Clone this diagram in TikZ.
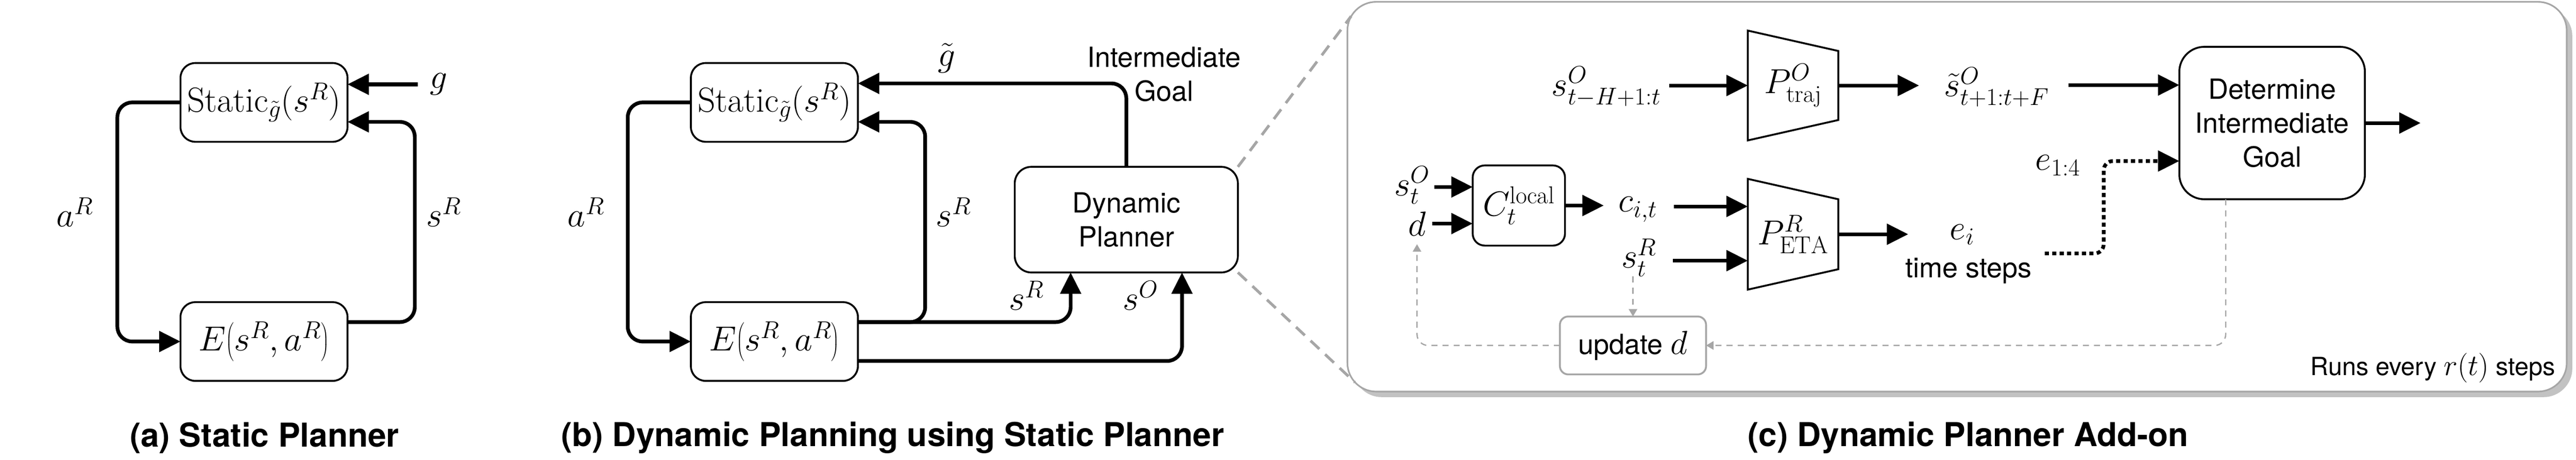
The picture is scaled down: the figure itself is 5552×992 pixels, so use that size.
\RequirePackage{fix-cm}
\documentclass[tikz,border=0pt]{standalone}
\usepackage{fontspec}
\newfontfamily\hv{TeX Gyre Heros}
\usetikzlibrary{arrows.meta,calc,shadows}
\definecolor{lgray}{HTML}{A6A6A6}
\definecolor{sgray}{HTML}{C2C2C2}
\tikzset{
  conn/.style={line width=4pt,-{Triangle[length=23pt,width=22pt]},rounded corners=16pt},
  box/.style={draw,line width=2pt,fill=white,inner sep=0pt,outer sep=0pt,align=center},
  mfont/.style={font=\fontsize{37.5pt}{45pt}\selectfont},
  mlab/.style={inner sep=0pt,outer sep=0pt,mfont},
  stxt/.style={inner sep=0pt,align=center,font=\hv\fontsize{30pt}{36.5pt}\selectfont},
  capt/.style={inner sep=0pt,font=\hv\bfseries\fontsize{35.5pt}{42pt}\selectfont},
  gdash/.style={draw=lgray,line width=1.4pt,dash pattern=on 6.5pt off 5.5pt,-{Triangle[length=8pt,width=9pt]},rounded corners=12pt},
  zdash/.style={draw=lgray,line width=3pt,dash pattern=on 13pt off 8.5pt},
  dotconn/.style={line width=4pt,dash pattern=on 4.5pt off 3.5pt,-{Triangle[length=23pt,width=22pt]},rounded corners=10pt},
  trap/.style={line width=2pt,line join=miter},
}
\begin{document}
\begin{tikzpicture}[x=0.5pt,y=-0.5pt]
\useasboundingbox (0,0) rectangle (5552,992);

% ---------------- panel (a)
\node[box,rounded corners=16pt,minimum width=180pt,minimum height=85pt,mfont] (sa) at (569,221) {$\mathrm{Static}_{\tilde{g}}(s^{R})$};
\node[box,rounded corners=16pt,minimum width=180pt,minimum height=85pt,mfont] (ea) at (569,737) {$E\mathopen{}\left(s^{R},a^{R}\right)$};
\node[mlab] (g) at (945,182) {$g$};
\draw[conn] ([xshift=-13pt]g.west) -- (g.west -| sa.east);
\draw[conn] (sa.west) -- ++(-136,0) |- (ea.west);
\draw[conn] ([yshift=21pt]ea.east) -- ++(145,0) |- ([yshift=-21pt]sa.east);
\node[mlab] (aRa) at (161,458) {$a^{R}$};
\node[mlab] (sRa) at (956,458) {$s^{R}$};
\node[capt] (capa) at (570,945) {(a) Static Planner};

% ---------------- panel (b)
\node[box,rounded corners=16pt,minimum width=180pt,minimum height=85pt,mfont] (sb) at (1669,221) {$\mathrm{Static}_{\tilde{g}}(s^{R})$};
\node[box,rounded corners=16pt,minimum width=180pt,minimum height=85pt,mfont] (eb) at (1669,737) {$E\mathopen{}\left(s^{R},a^{R}\right)$};
\node[box,rounded corners=18pt,minimum width=240.5pt,minimum height=114pt,stxt] (dyn) at (2427.5,474) {Dynamic\\Planner};
\draw[conn] (dyn.north) |- ([yshift=20.5pt]sb.east);
\draw[conn] (sb.west) -- ++(-136,0) |- (eb.west);
\draw[conn] ([yshift=21pt]eb.east) -- ++(145,0) |- ([yshift=-21pt]sb.east);
\draw[conn] ([yshift=21pt]eb.east) -| ([xshift=-60pt]dyn.south);
\draw[conn] ([yshift=-21pt]eb.east) -| ([xshift=60pt]dyn.south);
\node[mlab] (gt) at (2040,125) {$\tilde{g}$};
\node[stxt] (ig) at (2509,160) {Intermediate\\Goal};
\node[mlab] (aRb) at (1263,458) {$a^{R}$};
\node[mlab] (sRb) at (2055,458) {$s^{R}$};
\node[mlab] (sRd) at (2212,638) {$s^{R}$};
\node[mlab] (sOd) at (2458,638) {$s^{O}$};
\node[capt] (capb) at (1924,945) {(b) Dynamic Planning using Static Planner};

% ---------------- panel (c)
\node[draw=lgray,line width=1.75pt,fill=white,rounded corners=31pt,minimum width=1314pt,minimum height=420.5pt,inner sep=0pt,outer sep=0pt,drop shadow={shadow xshift=6pt,shadow yshift=-6pt,fill=sgray,opacity=1}] (panel) at (4218,424.5) {};
\draw[zdash] (dyn.north east) -- ($(panel.north west)+(8,31)$);
\draw[zdash] (dyn.south east) -- ($(panel.south west)+(16,-20)$);

% trajectory predictor
\node[mlab,minimum width=97.5pt,minimum height=118.5pt] (pt) at (3864.5,184.5) {$P^{O}_{\mathrm{traj}}$};
\draw[trap] (pt.north west) -- ($(pt.north east)+(0,44)$) -- ($(pt.south east)+(0,-44)$) -- (pt.south west) -- cycle;
\node[mlab] (shist) at (3462,187) {$s^{O}_{t-H+1:t}$};
\node[mlab] (stil) at (4303,188) {$\tilde{s}^{O}_{t+1:t+F}$};
\draw[conn,shorten <=9pt] (shist.east |- pt.west) -- (pt.west);
\draw[conn,shorten >=27pt] (pt.east) -- (pt.east -| stil.west);

% determine box
\node[box,rounded corners=27pt,minimum width=200pt,minimum height=164.5pt,stxt] (det) at (4897,265.5) {Determine\\Intermediate\\Goal};
\coordinate (detin1) at ([yshift=41pt]det.west);
\coordinate (detin2) at ([yshift=-41pt]det.west);
\coordinate (detout) at ([xshift=60pt]det.east);
\draw[conn,shorten <=21pt] (stil.east |- detin1) -- (detin1);
\draw[conn] (det.east) -- (detout);

% local cost
\node[box,rounded corners=13pt,minimum width=99.5pt,minimum height=86.5pt,mfont] (cl) at (3273.5,443.5) {$C^{\mathrm{local}}_{t}$};
\node[mlab] (sOt) at (3043,400) {$s^{O}_{t}$};
\node[mlab] (dl) at (3054,483) {$d$};
\coordinate (cin1) at ([yshift=20pt]cl.west);
\coordinate (cin2) at ([yshift=-19.5pt]cl.west);
\draw[conn,shorten <=5pt] (sOt.east |- cin1) -- (cin1);
\draw[conn,shorten <=7pt] (dl.east |- cin2) -- (cin2);
\node[mlab] (cit) at (3530,452) {$c_{i,t}$};
\node[mlab] (sRt) at (3532,556) {$s^{R}_{t}$};
\draw[conn,shorten >=16pt] (cl.east) -- (cl.east -| cit.west);

% ETA predictor
\node[mlab,minimum width=97.5pt,minimum height=119.5pt] (pe) at (3864.5,505.5) {$P^{R}_{\mathrm{ETA}}$};
\draw[trap] (pe.north west) -- ($(pe.north east)+(0,44)$) -- ($(pe.south east)+(0,-44)$) -- (pe.south west) -- cycle;
\coordinate (pin1) at ([yshift=30pt]pe.west);
\coordinate (pin2) at ([yshift=-28.5pt]pe.west);
\draw[conn,shorten <=18pt] (cit.east |- pin1) -- (pin1);
\draw[conn,shorten <=18pt] (sRt.east |- pin2) -- (pin2);
\node[mlab] (ei) at (4229,506) {$e_{i}$};
\node[stxt] (ts) at (4243,584) {time steps};
\draw[conn,shorten >=45pt] (pe.east) -- (pe.east -| ei.west);
\node[mlab] (e14) at (4435,357) {$e_{1:4}$};
\coordinate (dstart) at (4407,547);
\draw[dotconn] (dstart) -- ++(127,0) |- (detin2);

% update d
\node[box,draw=lgray,rounded corners=9pt,minimum width=157.5pt,minimum height=62.5pt,stxt] (upd) at (3519.5,745.5) {update {\fontsize{36pt}{40pt}\selectfont$d$}};
\draw[gdash] (sRt.south -| upd.north) -- (upd.north);
\draw[gdash,shorten >=9pt] (upd.west) -| (dl.south);
\draw[gdash] ([xshift=-50pt]det.south) |- (upd.east);

\node[stxt,anchor=east,font=\hv\fontsize{27pt}{32pt}\selectfont] (runs) at (5508,794) {Runs every {\fontsize{32pt}{36pt}\selectfont$r(t)$} steps};
\node[capt] (capc) at (4242,945) {(c) Dynamic Planner Add-on};
\end{tikzpicture}
\end{document}
